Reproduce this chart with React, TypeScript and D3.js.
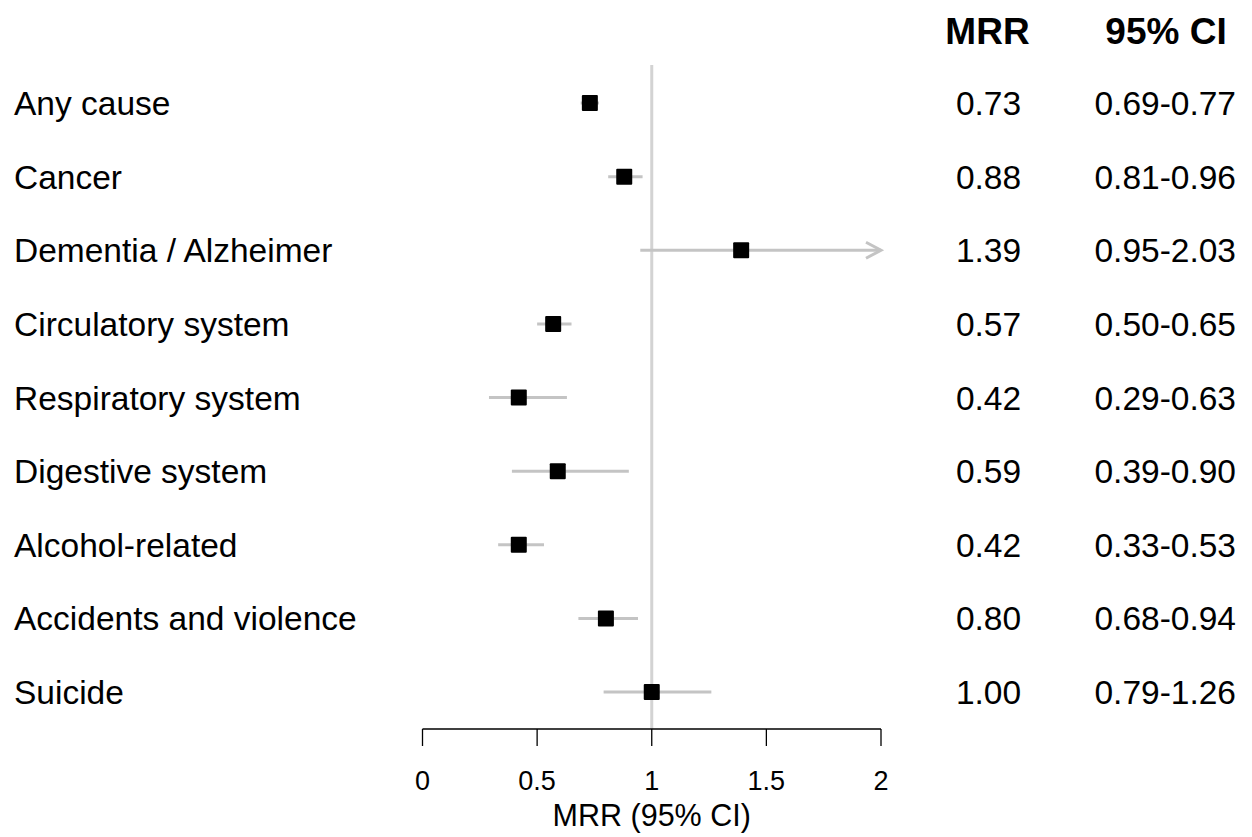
import React from 'react';
import * as d3 from 'd3';

// forest plot data
const causes = [
  'Any cause',
  'Cancer',
  'Dementia / Alzheimer',
  'Circulatory system',
  'Respiratory system',
  'Digestive system',
  'Alcohol-related',
  'Accidents and violence',
  'Suicide',
];
const mrr = [0.73, 0.88, 1.39, 0.57, 0.42, 0.59, 0.42, 0.80, 1.00];
const ciLow = [0.69, 0.81, 0.95, 0.50, 0.29, 0.39, 0.33, 0.68, 0.79];
const ciHigh = [0.77, 0.96, 2.03, 0.65, 0.63, 0.90, 0.53, 0.94, 1.26];
const xTicks = [0, 0.5, 1, 1.5, 2];

const W = 1252;
const H = 837;
const font = '"Liberation Sans", Arial, sans-serif';

const App = () => {
  const x = d3.scaleLinear().domain([0, 2]).range([422.5, 881]);
  const y = d3.scalePoint<number>()
    .domain(d3.range(causes.length))
    .range([103, 692]);

  const axisY = 729;
  const sq = 16;
  const grey = '#c4c4c4';
  const xMax = x.domain()[1];

  return (
    <svg width={W} height={H} style={{ position: 'absolute', left: 0, top: 0 }} fontFamily={font}>
      <rect width={W} height={H} fill="#fff" />

      {/* reference line at 1 */}
      <line x1={x(1)} x2={x(1)} y1={65} y2={axisY} stroke="#d3d3d3" strokeWidth={3} />

      {/* column headers */}
      <text x={987.5} y={44} fontSize={37} fontWeight="bold" textAnchor="middle">MRR</text>
      <text x={1166} y={44} fontSize={37} fontWeight="bold" textAnchor="middle">95% CI</text>

      {causes.map((c, i) => {
        const cy = y(i) as number;
        const hi = Math.min(ciHigh[i], xMax);
        const clipped = ciHigh[i] > xMax;
        return (
          <g key={c}>
            <text x={14} y={cy + 12} fontSize={33.5}>{c}</text>
            <line x1={x(ciLow[i])} x2={x(hi)} y1={cy} y2={cy} stroke={grey} strokeWidth={3} />
            {clipped && (
              <path
                d={`M${x(hi) - 15},${cy - 8} L${x(hi)},${cy} L${x(hi) - 15},${cy + 8}`}
                fill="none"
                stroke={grey}
                strokeWidth={3}
              />
            )}
            <rect x={x(mrr[i]) - sq / 2} y={cy - sq / 2} width={sq} height={sq} fill="#000" rx={1} />
            <text x={988.5} y={cy + 12} fontSize={33.5} textAnchor="middle">{mrr[i].toFixed(2)}</text>
            <text x={1236} y={cy + 12} fontSize={33.5} textAnchor="end">
              {`${ciLow[i].toFixed(2)}-${ciHigh[i].toFixed(2)}`}
            </text>
          </g>
        );
      })}

      {/* x axis */}
      <line x1={x(0)} x2={x(2)} y1={axisY} y2={axisY} stroke="#000" strokeWidth={1.3} />
      {xTicks.map(t => (
        <g key={t}>
          <line x1={x(t)} x2={x(t)} y1={axisY} y2={746} stroke="#000" strokeWidth={1.3} />
          <text x={x(t)} y={790} fontSize={27} textAnchor="middle">{t}</text>
        </g>
      ))}
      <text x={x(1)} y={826} fontSize={30.5} textAnchor="middle">MRR (95% CI)</text>
    </svg>
  );
};

export default App;
